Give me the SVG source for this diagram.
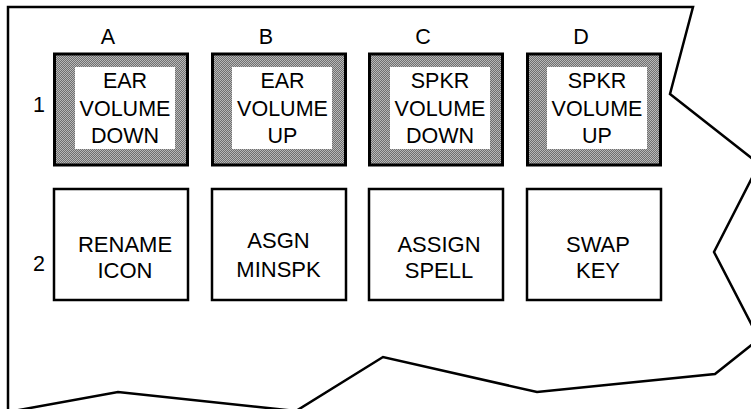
<svg xmlns="http://www.w3.org/2000/svg" width="751" height="409" viewBox="0 0 751 409">
<style>
text{font-family:"Liberation Sans",Arial,sans-serif;font-size:21.5px;fill:#000;text-anchor:middle}
.r2 text{font-size:22px}
.frame{fill:none;stroke:#000;stroke-width:2.5;stroke-linejoin:miter}
.k1{fill:url(#dots);stroke:#000;stroke-width:3}
.in{fill:#fff;stroke:none}
.k2{fill:#fff;stroke:#000;stroke-width:2.5}
</style>
<defs>
<pattern id="dots" width="2" height="2" patternUnits="userSpaceOnUse">
<rect width="2" height="2" fill="#707070"/>
<rect x="0" y="0" width="1" height="1" fill="#b8b8b8"/>
<rect x="1" y="1" width="1" height="1" fill="#b8b8b8"/>
</pattern>
</defs>
<path id="frame" class="frame" d="M8,412 L8,7 L693,7 L670,94 L759,164 L714,252 L759,339 L715,374 L537,392 L383,357 L296,411 L118,392 Z"/>
<g id="labels">
<text x="108" y="44">A</text>
<text x="266" y="44">B</text>
<text x="423" y="44">C</text>
<text x="581" y="44">D</text>
<text x="39" y="112">1</text>
<text x="39" y="271">2</text>
</g>
<g id="A1"><rect class="k1" x="54.5" y="54" width="133" height="111"/><rect class="in" x="75" y="67" width="100" height="82"/>
<text x="125" y="88">EAR</text><text x="125" y="116">VOLUME</text><text x="125" y="143">DOWN</text></g>
<g id="B1"><rect class="k1" x="212.5" y="54" width="133" height="111"/><rect class="in" x="232" y="67" width="100" height="82"/>
<text x="282.5" y="88">EAR</text><text x="282.5" y="116">VOLUME</text><text x="282.5" y="143">UP</text></g>
<g id="C1"><rect class="k1" x="369.5" y="54" width="133" height="111"/><rect class="in" x="390" y="67" width="100" height="82"/>
<text x="440" y="88">SPKR</text><text x="440" y="116">VOLUME</text><text x="440" y="143">DOWN</text></g>
<g id="D1"><rect class="k1" x="527.5" y="54" width="133" height="111"/><rect class="in" x="547" y="67" width="100" height="82"/>
<text x="597" y="88">SPKR</text><text x="597" y="116">VOLUME</text><text x="597" y="143">UP</text></g>
<g class="r2">
<g id="A2"><rect class="k2" x="54" y="189" width="134" height="111"/><text x="125" y="252">RENAME</text><text x="125" y="278">ICON</text></g>
<g id="B2"><rect class="k2" x="212" y="189" width="134" height="111"/><text x="278.5" y="248">ASGN</text><text x="278.5" y="277">MINSPK</text></g>
<g id="C2"><rect class="k2" x="369" y="189" width="134" height="111"/><text x="439" y="252">ASSIGN</text><text x="439" y="278">SPELL</text></g>
<g id="D2"><rect class="k2" x="527" y="189" width="134" height="111"/><text x="598" y="252">SWAP</text><text x="598" y="278">KEY</text></g>
</g>
<g id="connectors"/>
</svg>
